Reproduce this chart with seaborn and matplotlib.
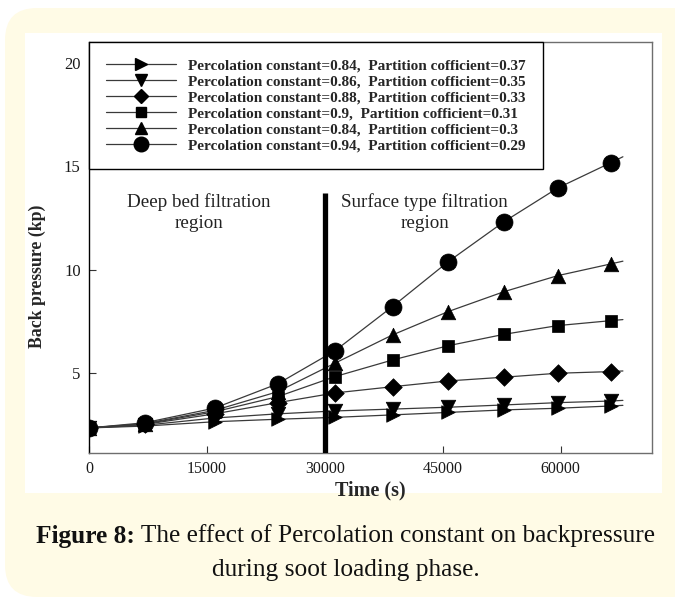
import numpy as np
import pandas as pd
import matplotlib
matplotlib.use("Agg")
import matplotlib.pyplot as plt
from matplotlib.lines import Line2D
from matplotlib.patches import FancyBboxPatch, Rectangle
import seaborn as sns

# ---------------- data ----------------
times = [0, 7100, 16000, 24000, 31300, 38600, 45700, 52800, 59600, 66400]
line_end_time = 67900

labels = [
    "Percolation constant=0.84,  Partition cofficient=0.37",
    "Percolation constant=0.86,  Partition cofficient=0.35",
    "Percolation constant=0.88,  Partition cofficient=0.33",
    "Percolation constant=0.9,  Partition cofficient=0.31",
    "Percolation constant=0.84,  Partition cofficient=0.3",
    "Percolation constant=0.94,  Partition cofficient=0.29",
]
markers = [">", "v", "D", "s", "^", "o"]

p084_037 = [2.37, 2.46, 2.67, 2.79, 2.88, 3.00, 3.12, 3.24, 3.32, 3.43]
p086_035 = [2.37, 2.50, 2.85, 3.05, 3.19, 3.28, 3.37, 3.48, 3.59, 3.67]
p088_033 = [2.37, 2.54, 3.05, 3.59, 4.06, 4.36, 4.64, 4.82, 5.01, 5.09]
p090_031 = [2.37, 2.56, 3.15, 3.88, 4.85, 5.65, 6.34, 6.89, 7.31, 7.55]
p084_030 = [2.37, 2.58, 3.22, 4.12, 5.50, 6.86, 7.99, 8.95, 9.72, 10.29]
p094_029 = [2.37, 2.62, 3.33, 4.50, 6.10, 8.23, 10.40, 12.33, 13.95, 15.18]
line_end_values = [3.46, 3.70, 5.12, 7.60, 10.42, 15.46]

series = [p084_037, p086_035, p088_033, p090_031, p084_030, p094_029]

x_ticks = [0, 15000, 30000, 45000, 60000]
y_ticks = [5, 10, 15, 20]
boundary_time = 30000
boundary_top = 13.7

# ---------------- style ----------------
sns.set_theme(style="ticks")
plt.rcParams["font.family"] = ["Liberation Serif", "DejaVu Serif"]

W, H, DPI = 675, 603, 100
fig = plt.figure(figsize=(W / DPI, H / DPI), dpi=DPI)
fig.patch.set_facecolor("white")

cream = "#fffbe6"
fig.patches.append(FancyBboxPatch((5 / DPI, 6 / DPI), 700 / DPI, 589 / DPI,
                                  boxstyle="round,pad=0,rounding_size=0.32",
                                  transform=fig.dpi_scale_trans,
                                  facecolor=cream, edgecolor="none", zorder=-10))
fig.patches.append(Rectangle((25 / DPI, 110 / DPI), 637 / DPI, 460 / DPI,
                             transform=fig.dpi_scale_trans,
                             facecolor="white", edgecolor="none", zorder=-9))

ax = fig.add_axes([89 / W, (H - 453) / H, (652 - 89) / W, (453 - 42) / H])
ax.set_facecolor("white")

rows = []
for lab, vals, endv in zip(labels, series, line_end_values):
    for t, v in zip(times + [line_end_time], vals + [endv]):
        rows.append({"series": lab, "time": t, "bp": v})
line_df = pd.DataFrame(rows)
mk_rows = []
for lab, vals in zip(labels, series):
    for t, v in zip(times, vals):
        mk_rows.append({"series": lab, "time": t, "bp": v})
mk_df = pd.DataFrame(mk_rows)

msize = {">": 95, "v": 110, "D": 80, "s": 75, "^": 110, "o": 150}
for lab, m in zip(labels, markers):
    sub = line_df[line_df["series"] == lab]
    sns.lineplot(data=sub, x="time", y="bp", ax=ax, color="#3a3a3a",
                 linewidth=0.9, sort=True, estimator=None, legend=False, zorder=2)
    subm = mk_df[mk_df["series"] == lab]
    sns.scatterplot(data=subm, x="time", y="bp", ax=ax, marker=m, s=msize[m],
                    color="black", edgecolor="black", linewidth=0.5,
                    legend=False, zorder=3)

ax.plot([boundary_time, boundary_time], [1.16, boundary_top], color="black",
        linewidth=3.8, solid_capstyle="butt", zorder=4)

ax.set_xlim(0, 71600)
ax.set_ylim(1.16, 21.0)
ax.set_xticks(x_ticks)
ax.set_yticks(y_ticks)
ax.set_xticklabels([str(t) for t in x_ticks])
ax.set_yticklabels([str(t) for t in y_ticks])
ax.tick_params(direction="in", length=5, width=0.8, colors="#333333",
               labelsize=11.5, labelcolor="#1a1a1a", pad=6)
ax.tick_params(axis="y", labelsize=12)
ax.set_xlabel("Time (s)", fontsize=14.5, fontweight="bold", labelpad=2)
ax.set_ylabel("Back pressure (kp)", fontsize=12.8, fontweight="bold")
ax.yaxis.set_label_coords(-0.076, 0.43)

for side in ["top", "right", "bottom"]:
    ax.spines[side].set_color("#6e6e6e")
    ax.spines[side].set_linewidth(1.0)
ax.spines["left"].set_color("black")
ax.spines["left"].set_linewidth(1.0)

ax.text(14000, 12.75, "Deep bed filtration\nregion", ha="center", va="center",
        fontsize=13.7, color="#222222", linespacing=1.3)
ax.text(42700, 12.75, "Surface type filtration\nregion", ha="center", va="center",
        fontsize=13.7, color="#222222", linespacing=1.3)

handles = [Line2D([0], [0], color="#3a3a3a", linewidth=0.9, marker=m,
                  markersize={">": 8.5, "v": 9, "D": 7.5, "s": 7.5, "^": 9, "o": 10.5}[m],
                  markerfacecolor="black", markeredgecolor="black")
           for m in markers]
leg = ax.legend(handles, labels, loc="upper left", bbox_to_anchor=(0, 1),
                borderaxespad=0, frameon=True, fancybox=False,
                prop={"family": "Liberation Serif", "weight": "bold", "size": 11.0},
                handlelength=4.6, handletextpad=0.8, labelspacing=0.15,
                borderpad=1.1, framealpha=1)
leg.get_frame().set_edgecolor("black")
leg.get_frame().set_linewidth(1.0)

# caption with mixed weight, centered
cap_fs = 18.3
renderer = fig.canvas.get_renderer()
t1 = fig.text(0, 0, "Figure 8:", fontsize=cap_fs, fontweight="bold", color="#111111")
t2 = fig.text(0, 0, " The effect of Percolation constant on backpressure",
              fontsize=cap_fs, color="#111111")
w1 = t1.get_window_extent(renderer).width
w2 = t2.get_window_extent(renderer).width
x0 = (W / 2 + 8 - (w1 + w2) / 2) / W
y1 = (H - 536) / H
t1.set_position((x0, y1)); t1.set_va("center")
t2.set_position((x0 + w1 / W, y1)); t2.set_va("center")
fig.text((W / 2 + 8) / W, (H - 570) / H, "during soot loading phase.", fontsize=cap_fs,
         ha="center", va="center", color="#111111")

fig.savefig("out.png", dpi=DPI, facecolor=fig.get_facecolor())
